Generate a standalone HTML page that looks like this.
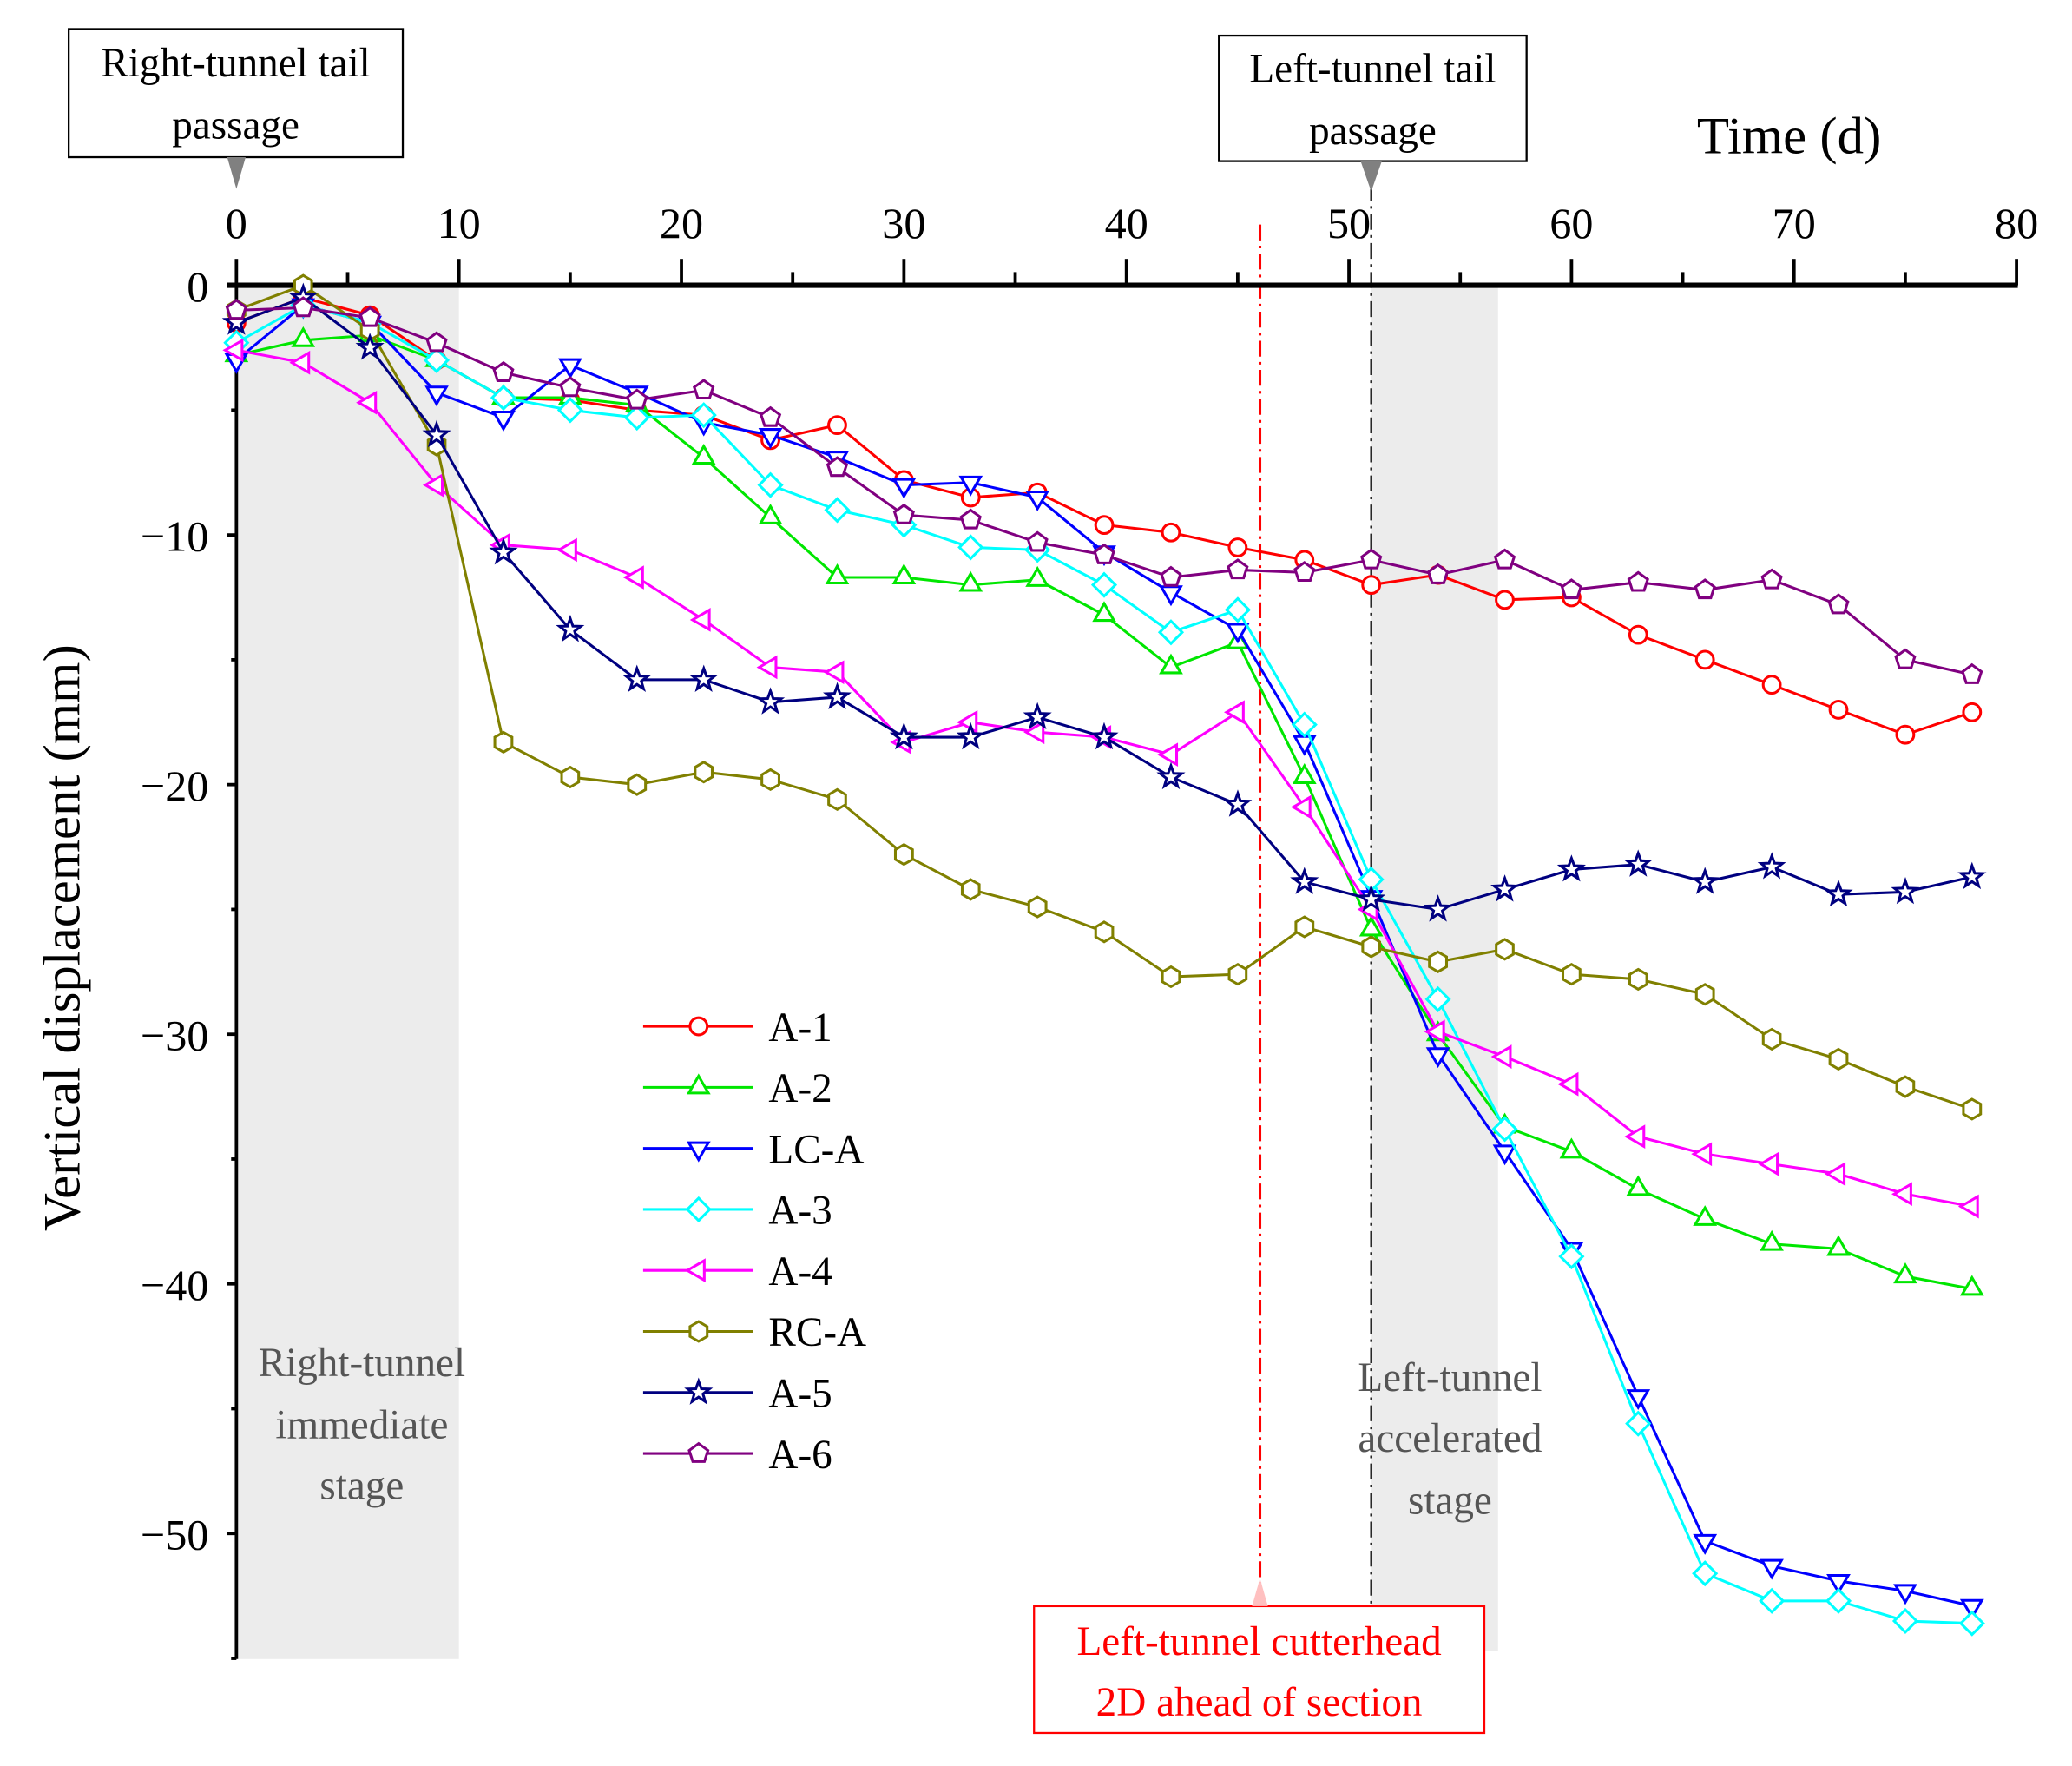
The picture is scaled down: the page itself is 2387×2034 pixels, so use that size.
<!DOCTYPE html>
<html><head><meta charset="utf-8"><style>
html,body{margin:0;padding:0;background:#fff}
svg{display:block}
text{font-family:"Liberation Serif",serif}
</style></head><body>
<svg id="chart" width="2387" height="2034" viewBox="0 0 1569 1337" xmlns="http://www.w3.org/2000/svg">
<rect x="0" y="0" width="1569" height="1337" fill="#fff"/>
<g id="bg"></g>
<g id="axes"></g>
<g id="series"></g>
<g id="legend"></g>
</svg>
<script>
const days = [0,3,6,9,12,15,18,21,24,27,30,33,36,39,42,45,48,51,54,57,60,63,66,69,72,75,78];
const xTicks = [0,10,20,30,40,50,60,70,80];
const yTicks = [0,-10,-20,-30,-40,-50];
const yTickLabels = ["0","\u221210","\u221220","\u221230","\u221240","\u221250"];
const seriesNames = ["A-1","A-2","LC-A","A-3","A-4","RC-A","A-5","A-6"];
const a1 = [-1.5,-0.5,-1.2,-3,-4.5,-4.6,-5,-5.2,-6.2,-5.6,-7.8,-8.5,-8.3,-9.6,-9.9,-10.5,-11,-12,-11.6,-12.6,-12.5,-14,-15,-16,-17,-18,-17.1];
const a2 = [-2.8,-2.2,-2,-3,-4.5,-4.5,-4.8,-6.9,-9.3,-11.7,-11.7,-12,-11.8,-13.2,-15.3,-14.3,-19.7,-25.8,-30,-33.7,-34.7,-36.2,-37.4,-38.4,-38.6,-39.7,-40.2];
const lca = [-3,-0.8,-1.5,-4.3,-5.3,-3.2,-4.3,-5.5,-6,-6.9,-8,-7.9,-8.5,-10.7,-12.3,-13.8,-18.3,-24.5,-30.8,-34.7,-38.6,-44.5,-50.3,-51.3,-51.9,-52.3,-52.9];
const a3 = [-2.3,-0.8,-1.5,-3,-4.5,-5,-5.3,-5.2,-8,-9,-9.6,-10.5,-10.6,-12,-13.9,-13,-17.6,-23.8,-28.6,-33.8,-38.9,-45.6,-51.6,-52.7,-52.7,-53.5,-53.6];
const a4 = [-2.6,-3.1,-4.7,-8,-10.4,-10.6,-11.7,-13.4,-15.3,-15.5,-18.3,-17.5,-17.9,-18.1,-18.8,-17.1,-20.9,-25,-29.9,-30.9,-32,-34.1,-34.8,-35.2,-35.6,-36.4,-36.9];
const rca = [-1,0,-1.8,-6.4,-18.3,-19.7,-20,-19.5,-19.8,-20.6,-22.8,-24.2,-24.9,-25.9,-27.7,-27.6,-25.7,-26.5,-27.1,-26.6,-27.6,-27.8,-28.4,-30.2,-31,-32.1,-33];
const a5 = [-1.5,-0.5,-2.5,-6,-10.7,-13.8,-15.8,-15.8,-16.7,-16.5,-18.1,-18.1,-17.3,-18.1,-19.7,-20.8,-23.9,-24.6,-25,-24.2,-23.4,-23.2,-23.9,-23.3,-24.4,-24.3,-23.7];
const a6 = [-1,-0.9,-1.3,-2.3,-3.5,-4.1,-4.6,-4.2,-5.3,-7.3,-9.2,-9.4,-10.3,-10.8,-11.7,-11.4,-11.5,-11,-11.6,-11,-12.2,-11.9,-12.2,-11.8,-12.8,-15,-15.6];
const seriesValues = [a1,a2,lca,a3,a4,rca,a5,a6];
const colors = ["#ff0000","#00e600","#0000ff","#00ffff","#ff00ff","#808000","#000080","#800080"];
const markers = ["circle","up","down","diamond","left","hex","star","pent"];

const NS="http://www.w3.org/2000/svg";
const X = d => 179 + d*(1527-179)/80;
const Y = v => 216 - v*18.9;
function mk(tag, attrs, parent, txt){const e=document.createElementNS(NS,tag);for(const k in attrs)e.setAttribute(k,attrs[k]);if(txt!==undefined)e.textContent=txt;parent.appendChild(e);return e;}
const bg=document.getElementById('bg'),ax=document.getElementById('axes'),sg=document.getElementById('series'),lg=document.getElementById('legend');

let r=mk('rect',{x:X(0),y:216,width:X(10)-X(0),height:1256-216,fill:'#ececec'},bg);


r=mk('rect',{x:X(51),y:216,width:X(56.7)-X(51),height:1250-216,fill:'#ececec'},bg);


let l=mk('line',{x1:X(46),y1:170,x2:X(46),y2:1200,stroke:'#ff0000','stroke-width':2,'stroke-dasharray':'12,4,2,4'},bg);


l=mk('line',{x1:X(51),y1:140,x2:X(51),y2:1216,stroke:'#000','stroke-width':1.5,'stroke-dasharray':'12,4,2,4'},bg);


[["Right-tunnel",1042],["immediate",1089],["stage",1135]].forEach(([t,y])=>{const e=mk('text',{x:274,y:y,'font-size':31,fill:'#555','text-anchor':'middle'},bg,t);

});
[["Left-tunnel",1053],["accelerated",1099],["stage",1146]].forEach(([t,y])=>{const e=mk('text',{x:1098,y:y,'font-size':31,fill:'#555','text-anchor':'middle'},bg,t);

});

l=mk('line',{x1:172,y1:216,x2:1528,y2:216,stroke:'#000','stroke-width':4},ax);


l=mk('line',{x1:179,y1:216,x2:179,y2:1256,stroke:'#000','stroke-width':2.5},ax);


for(let d=0;d<=80;d+=5){const major=d%10===0;const t=mk('line',{x1:X(d),y1:216,x2:X(d),y2:major?196:206,stroke:'#000','stroke-width':2.5},ax);

}
xTicks.forEach(d=>{const t=mk('text',{x:X(d),y:180,'font-size':33,'text-anchor':'middle'},ax,String(d));

});
for(let v=0;v>=-55;v-=5){const major=v%10===0;const t=mk('line',{x1:179,y1:Y(v),x2:major?172:175,y2:Y(v),stroke:'#000','stroke-width':2.5},ax);

}
yTicks.forEach((v,i)=>{const t=mk('text',{x:158,y:Y(v)+12,'font-size':33,'text-anchor':'end'},ax,yTickLabels[i]);

});
let tt=mk('text',{x:1285,y:116,'font-size':40},ax,'Time (d)');


tt=mk('text',{x:0,y:0,'font-size':40,'text-anchor':'middle',transform:'translate(60,710) rotate(-90)'},ax,'Vertical displacement (mm)');



function box(name,x,y,w,h,lines,color,tri){
  const g=mk('g',{},ax);
  
  
  mk('rect',{x:x,y:y,width:w,height:h,fill:'#fff',stroke:color,'stroke-width':1.5},g);
  lines.forEach(([t,ly])=>mk('text',{x:x+w/2,y:ly,'font-size':31,'text-anchor':'middle',fill:color},g,t));
  if(tri) mk('polygon',{points:tri,fill:tri.indexOf('1195')>=0?'#ffc0c0':'#808080'},g);
}
box('right-tail-passage-annotation',52,22,253,97,[["Right-tunnel tail",58],["passage",105]],'#000',`${X(0)-7},119 ${X(0)+7},119 ${X(0)},143`);
box('left-tail-passage-annotation',923,27,233,95,[["Left-tunnel tail",62],["passage",109]],'#000',`${X(51)-8},122 ${X(51)+8},122 ${X(51)},145`);
box('cutterhead-annotation',783,1216,341,96,[["Left-tunnel cutterhead",1253],["2D ahead of section",1299]],'#ff0000',`${X(46)-6},1216 ${X(46)+6},1216 ${X(46)},1195`);

function marker(type,cx,cy,color,parent){
  const s=7.5;
  const poly=(n,rot,rad)=>{const p=[];for(let i=0;i<n;i++){const a=rot+i*2*Math.PI/n;p.push((cx+rad*Math.cos(a)).toFixed(1)+','+(cy+rad*Math.sin(a)).toFixed(1));}return p.join(' ');};
  let e;
  if(type==='circle') e=mk('circle',{cx:cx,cy:cy,r:6.5,fill:'#fff',stroke:color,'stroke-width':2},parent);
  else if(type==='up') e=mk('polygon',{points:poly(3,-Math.PI/2,s+1),fill:'#fff',stroke:color,'stroke-width':2},parent);
  else if(type==='down') e=mk('polygon',{points:poly(3,Math.PI/2,s+1),fill:'#fff',stroke:color,'stroke-width':2},parent);
  else if(type==='left') e=mk('polygon',{points:poly(3,Math.PI,s+1),fill:'#fff',stroke:color,'stroke-width':2},parent);
  else if(type==='diamond') e=mk('polygon',{points:poly(4,-Math.PI/2,s+1),fill:'#fff',stroke:color,'stroke-width':2},parent);
  else if(type==='hex') e=mk('polygon',{points:poly(6,-Math.PI/2,s),fill:'#fff',stroke:color,'stroke-width':2},parent);
  else if(type==='pent') e=mk('polygon',{points:poly(5,-Math.PI/2,s),fill:'#fff',stroke:color,'stroke-width':2},parent);
  else {const p=[];for(let i=0;i<10;i++){const a=-Math.PI/2+i*Math.PI/5;const rr=i%2?3.5:8.5;p.push((cx+rr*Math.cos(a)).toFixed(1)+','+(cy+rr*Math.sin(a)).toFixed(1));}
    e=mk('polygon',{points:p.join(' '),fill:'#fff',stroke:color,'stroke-width':2},parent);}
  return e;
}

seriesValues.forEach((vals,si)=>{
  const g=mk('g',{},sg);
  
  
  const pts=vals.map((v,i)=>X(days[i]).toFixed(1)+','+Y(v).toFixed(1)).join(' ');
  const pl=mk('polyline',{points:pts,fill:'none',stroke:colors[si],'stroke-width':2},g);
  
  
  vals.forEach((v,i)=>{const m=marker(markers[si],X(days[i]),Y(v),colors[si],g);
    
    });
});

seriesNames.forEach((n,i)=>{
  const y=777+i*46.2;
  const g=mk('g',{},lg);
  
  
  mk('line',{x1:487,y1:y,x2:570,y2:y,stroke:colors[i],'stroke-width':2},g);
  marker(markers[i],529,y,colors[i],g);
  mk('text',{x:582,y:y+11,'font-size':31},g,n);
});
</script>
</body></html>
